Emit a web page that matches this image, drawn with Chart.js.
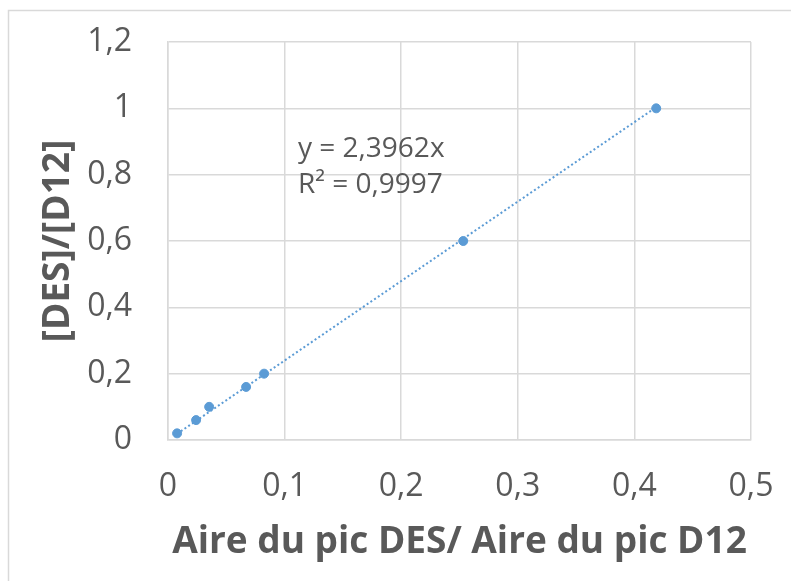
<!DOCTYPE html>
<html lang="fr">
<head>
    <meta charset="UTF-8">
    <title>[DES]/[D12] en fonction du rapport des aires</title>
    <style>
        html, body {
            margin: 0;
            padding: 0;
            background: white;
        }
        .container {
            position: relative;
            width: 791px;
            height: 581px;
        }
    </style>
</head>
<body>
    <div class="container">
        <canvas id="calibChart" width="791" height="581"></canvas>
    </div>

    <script src="https://cdn.jsdelivr.net/npm/chart.js"></script>
    <script>
        // Points mesurés (aire DES / aire D12 -> [DES]/[D12])
        const aireRatio = [0.0078, 0.0241, 0.0353, 0.067, 0.0824, 0.2532, 0.4187];
        const concRatio = [0.02, 0.06, 0.1, 0.16, 0.2, 0.6, 1.0];

        // Courbe de tendance linéaire (extrémités)
        const trendX = [0.0078, 0.4187];
        const trendY = [0.0187, 1.0033];
        const trendLabel = ["y = 2,3962x", "R² = 0,9997"];

        const xTicks = [0, 0.1, 0.2, 0.3, 0.4, 0.5];
        const yTicks = [0, 0.2, 0.4, 0.6, 0.8, 1, 1.2];

        const grey = '#595959';
        const gridGrey = '#d9d9d9';
        const blue = '#5b9bd5';

        const fmt = v => String(Math.round(v * 10) / 10).replace('.', ',');

        // pas de marge auto autour des étiquettes, on fixe la zone du graphe
        function noOverhang(axis) {
            axis.paddingTop = 0;
            axis.paddingBottom = 0;
            axis.paddingLeft = 0;
            axis.paddingRight = 0;
        }

        // cadre gris + equation de la tendance
        const decorPlugin = {
            id: 'decor',
            beforeDraw(chart) {
                const ctx = chart.ctx;
                ctx.save();
                ctx.strokeStyle = gridGrey;
                ctx.lineWidth = 1.5;
                ctx.beginPath();
                ctx.moveTo(8.5, 581);
                ctx.lineTo(8.5, 10.5);
                ctx.lineTo(791, 10.5);
                ctx.stroke();
                ctx.restore();
            },
            afterDatasetsDraw(chart) {
                const ctx = chart.ctx;
                ctx.save();
                ctx.fillStyle = grey;
                ctx.font = '28px "Open Sans"';
                ctx.textBaseline = 'alphabetic';
                ctx.fillText(trendLabel[0], 298, 157);
                ctx.fillText(trendLabel[1], 298, 193);
                ctx.restore();
            }
        };

        new Chart(document.getElementById('calibChart'), {
            type: 'scatter',
            data: {
                datasets: [
                    {
                        label: 'Tendance',
                        type: 'line',
                        data: trendX.map((x, i) => ({ x: x, y: trendY[i] })),
                        borderColor: blue,
                        borderWidth: 2,
                        borderDash: [2, 2.5],
                        pointRadius: 0,
                        fill: false,
                        order: 2
                    },
                    {
                        label: 'Points',
                        data: aireRatio.map((x, i) => ({ x: x, y: concRatio[i] })),
                        backgroundColor: blue,
                        borderColor: blue,
                        pointRadius: 4.5,
                        order: 1
                    }
                ]
            },
            options: {
                responsive: false,
                animation: false,
                layout: {
                    autoPadding: false,
                    padding: { left: 0, top: 42, right: 40, bottom: 0 }
                },
                plugins: {
                    legend: { display: false },
                    tooltip: { enabled: false }
                },
                scales: {
                    x: {
                        type: 'linear',
                        min: 0,
                        max: 0.5,
                        afterBuildTicks: axis => { axis.ticks = xTicks.map(v => ({ value: v })); },
                        afterFit: axis => { axis.height = 141; noOverhang(axis); },
                        grid: { color: gridGrey, lineWidth: 1.5, drawTicks: false },
                        border: { color: gridGrey, width: 1.5 },
                        ticks: {
                            color: grey,
                            font: { family: 'Open Sans', size: 32 },
                            padding: 28,
                            callback: v => fmt(v)
                        },
                        title: {
                            display: true,
                            text: 'Aire du pic DES/ Aire du pic D12',
                            color: grey,
                            font: { family: 'Open Sans', size: 37, weight: 'bold' },
                            padding: { top: 0, bottom: 16 }
                        }
                    },
                    y: {
                        type: 'linear',
                        min: 0,
                        max: 1.2,
                        afterBuildTicks: axis => { axis.ticks = yTicks.map(v => ({ value: v })); },
                        afterFit: axis => { axis.width = 168; noOverhang(axis); },
                        grid: { color: gridGrey, lineWidth: 1.5, drawTicks: false },
                        border: { color: gridGrey, width: 1.5 },
                        ticks: {
                            color: grey,
                            font: { family: 'Open Sans', size: 32 },
                            padding: 36,
                            callback: v => fmt(v)
                        },
                        title: {
                            display: true,
                            text: '[DES]/[D12]',
                            color: grey,
                            font: { family: 'Open Sans', size: 37, weight: 'bold' },
                            padding: { top: 36, bottom: 0 }
                        }
                    }
                }
            },
            plugins: [decorPlugin]
        });
    </script>
</body>
</html>
